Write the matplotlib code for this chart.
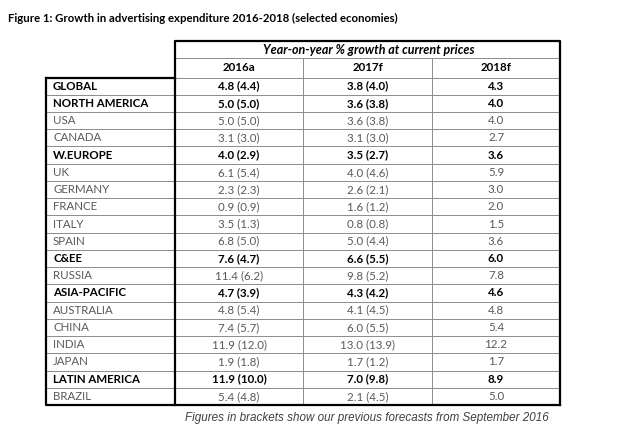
import matplotlib.pyplot as plt

regions = ["GLOBAL", "NORTH AMERICA", "USA", "CANADA", "W.EUROPE", "UK", "GERMANY",
           "FRANCE", "ITALY", "SPAIN", "C&EE", "RUSSIA", "ASIA-PACIFIC", "AUSTRALIA",
           "CHINA", "INDIA", "JAPAN", "LATIN AMERICA", "BRAZIL"]
bold_rows = ["GLOBAL", "NORTH AMERICA", "W.EUROPE", "C&EE", "ASIA-PACIFIC", "LATIN AMERICA"]
g2016 = [4.8, 5.0, 5.0, 3.1, 4.0, 6.1, 2.3, 0.9, 3.5, 6.8, 7.6, 11.4, 4.7, 4.8, 7.4, 11.9, 1.9, 11.9, 5.4]
p2016 = [4.4, 5.0, 5.0, 3.0, 2.9, 5.4, 2.3, 0.9, 1.3, 5.0, 4.7, 6.2, 3.9, 5.4, 5.7, 12.0, 1.8, 10.0, 4.8]
g2017 = [3.8, 3.6, 3.6, 3.1, 3.5, 4.0, 2.6, 1.6, 0.8, 5.0, 6.6, 9.8, 4.3, 4.1, 6.0, 13.0, 1.7, 7.0, 2.1]
p2017 = [4.0, 3.8, 3.8, 3.0, 2.7, 4.6, 2.1, 1.2, 0.8, 4.4, 5.5, 5.2, 4.2, 4.5, 5.5, 13.9, 1.2, 9.8, 4.5]
g2018 = [4.3, 4.0, 4.0, 2.7, 3.6, 5.9, 3.0, 2.0, 1.5, 3.6, 6.0, 7.8, 4.6, 4.8, 5.4, 12.2, 1.7, 8.9, 5.0]
col_labels = ["2016a", "2017f", "2018f"]
header = "Year-on-year % growth at current prices"
title = "Figure 1: Growth in advertising expenditure 2016-2018 (selected economies)"
note = "Figures in brackets show our previous forecasts from September 2016"

plt.rcParams['font.family'] = ['Lato', 'DejaVu Sans']

fig = plt.figure(figsize=(6.3, 4.42), dpi=100)
ax = fig.add_axes([0, 0, 1, 1])
ax.set_xlim(0, 630)
ax.set_ylim(442, 0)
ax.axis('off')

# layout in pixels
x_left, x_c = 46, [175, 303, 432, 560]
y_top, y_h1, y_h2 = 41, 58, 77.5
y_bot = 405
n = len(regions)
rh = (y_bot - y_h2) / n
fs = 8.3
thin = dict(color='#8c8c8c', lw=0.7)
thick = dict(color='black', lw=1.6)

ax.text(8, 18, title, fontsize=8.2, fontweight='bold', va='center', ha='left')

# header
ax.text((x_c[0] + x_c[3]) / 2 + 1, (y_top + y_h1) / 2, header, fontsize=9.0,
        fontweight='bold', style='italic', ha='center', va='center')
for j, lab in enumerate(col_labels):
    ax.text((x_c[j] + x_c[j + 1]) / 2, (y_h1 + y_h2) / 2, lab, fontsize=fs,
            fontweight='bold', ha='center', va='center')
ax.plot([x_c[0], x_c[3]], [y_h1, y_h1], **thin)
ax.plot([x_c[0], x_c[3]], [y_h2, y_h2], **thin)
for x in x_c[1:3]:
    ax.plot([x, x], [y_h1, y_bot], **thin)

# rows
for i, r in enumerate(regions):
    yc = y_h2 + (i + 0.5) * rh
    b = r in bold_rows
    fw = 'bold' if b else 'normal'
    c = 'black' if b else '#595959'
    ax.text(x_left + 7, yc, r, fontsize=fs, fontweight=fw, color=c, ha='left', va='center')
    vals = [f"{g2016[i]:.1f} ({p2016[i]:.1f})", f"{g2017[i]:.1f} ({p2017[i]:.1f})", f"{g2018[i]:.1f}"]
    for j, v in enumerate(vals):
        ax.text((x_c[j] + x_c[j + 1]) / 2, yc, v, fontsize=fs, fontweight=fw, color=c,
                ha='center', va='center')
    if i > 0:
        ax.plot([x_left, x_c[3]], [y_h2 + i * rh] * 2, **thin)

# thick borders
ax.plot([x_c[0], x_c[0], x_c[3], x_c[3]], [y_bot, y_top, y_top, y_bot], **thick)
ax.plot([x_left, x_left, x_c[3]], [y_h2, y_bot, y_bot], **thick)
ax.plot([x_left, x_c[0]], [y_h2, y_h2], **thick)

ax.text(367, 418, note, fontsize=8.4, style='italic', family=['Liberation Sans'],
        color='#404040', ha='center', va='center')

fig.savefig("out.png", dpi=100)
